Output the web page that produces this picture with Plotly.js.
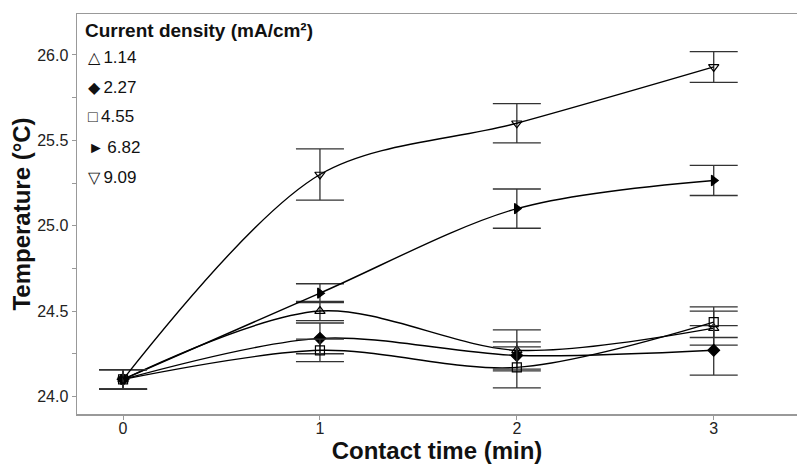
<!DOCTYPE html>
<html>
<head>
<meta charset="utf-8">
<script src="https://cdn.plot.ly/plotly-3.0.1.min.js"></script>
<style>html,body{margin:0;padding:0;background:#fff;}#chart{width:802px;height:464px;}</style>
</head>
<body>
<div id="chart"></div>
<script>
const times = [0, 1, 2, 3];
const seriesNames = ["1.14", "2.27", "4.55", "6.82", "9.09"];
const legendGlyphs = ["△", "◆", "□", "►", "▽"];
const temp_114 = [24.10, 24.50, 24.27, 24.40];
const temp_227 = [24.10, 24.34, 24.24, 24.27];
const temp_455 = [24.10, 24.27, 24.17, 24.435];
const temp_682 = [24.10, 24.605, 25.10, 25.265];
const temp_909 = [24.10, 25.30, 25.60, 25.93];
const err_114 = [0.057, 0.056, 0.12, 0.10];
const err_227 = [0.057, 0.09, 0.08, 0.145];
const err_455 = [0.057, 0.066, 0.12, 0.09];
const err_682 = [0.057, 0.055, 0.115, 0.088];
const err_909 = [0.057, 0.15, 0.115, 0.09];

const allTemps = [temp_114, temp_227, temp_455, temp_682, temp_909];
const allErrs = [err_114, err_227, err_455, err_682, err_909];
const symbols = ["triangle-up-open", "diamond", "square-open", "triangle-right", "triangle-down-open"];

const traces = allTemps.map((ys, i) => ({
  x: times, y: ys, type: "scatter", mode: "lines+markers", name: seriesNames[i],
  line: {shape: "spline", smoothing: 0.9, color: "#000", width: 1.4},
  marker: {symbol: symbols[i], size: 9, color: "#000", line: {color: "#000", width: 1.2}},
  error_y: {type: "data", array: allErrs[i], visible: true, color: "#333", thickness: 1.3, width: 24},
  showlegend: false, hoverinfo: "skip"
}));

const legendY = [0.8925, 0.8175, 0.7425, 0.6675, 0.5925];
const annotations = [{
  xref: "paper", yref: "paper", x: 0.0083, y: 0.9575, xanchor: "left", yanchor: "middle",
  text: "<b>Current density (mA/cm²)</b>", showarrow: false,
  font: {size: 19, color: "#111", family: "Liberation Sans, Arial, sans-serif"}
}];
seriesNames.forEach((nm, i) => {
  annotations.push({
    xref: "paper", yref: "paper", x: 0.0125, y: legendY[i], xanchor: "left", yanchor: "middle",
    text: '<span style="font-size:16px">' + legendGlyphs[i] + '</span>\u2009' + nm, showarrow: false,
    font: {size: 17, color: "#111", family: "Liberation Sans, Arial, sans-serif"}
  });
});

const layout = {
  width: 802, height: 464,
  margin: {l: 77, r: 5, t: 14, b: 50},
  paper_bgcolor: "#fff", plot_bgcolor: "#fff",
  font: {family: "Liberation Sans, Arial, sans-serif", color: "#222"},
  showlegend: false,
  annotations: annotations,
  xaxis: {
    range: [-0.234, 3.423], tickvals: times, ticktext: ["0", "1", "2", "3"],
    showgrid: false, zeroline: false, showline: true, linecolor: "#999", linewidth: 1.5,
    mirror: true, ticks: "outside", ticklen: 4, tickcolor: "#999",
    ticklabelstandoff: -5,
    tickfont: {size: 16, color: "#222"},
    title: {text: "<b>Contact time (min)</b>", font: {size: 24, color: "#111"}, standoff: 6}
  },
  yaxis: {
    range: [23.897, 26.24], tickvals: [24.0, 24.5, 25.0, 25.5, 26.0],
    ticktext: ["24.0", "24.5", "25.0", "25.5", "26.0"],
    showgrid: false, zeroline: false, showline: true, linecolor: "#999", linewidth: 1.5,
    ticks: "outside", ticklen: 4, tickcolor: "#999",
    minor: {tickvals: [24.25, 24.75, 25.25, 25.75], ticks: "outside", ticklen: 4, tickcolor: "#999", showgrid: false},
    tickfont: {size: 16, color: "#222"},
    title: {text: "<b>Temperature (°C)</b>", font: {size: 24, color: "#111"}, standoff: 0}
  }
};

Plotly.newPlot("chart", traces, layout, {displayModeBar: false, staticPlot: true});
</script>
</body>
</html>
